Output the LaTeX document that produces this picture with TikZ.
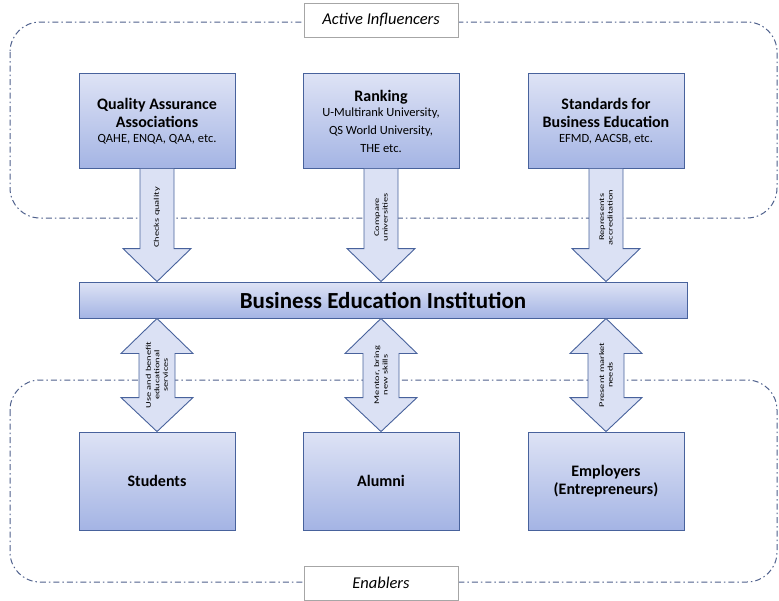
\documentclass[tikz,border=0pt]{standalone}
\usepackage{fontspec}
\setmainfont{Carlito}
\usetikzlibrary{calc}

\definecolor{boxtop}{RGB}{222,227,245}
\definecolor{boxbot}{RGB}{164,180,228}
\definecolor{boxline}{RGB}{72,98,156}
\definecolor{arrowfill}{RGB}{219,225,244}
\definecolor{dashline}{RGB}{78,96,140}

\tikzset{
  region/.style={draw=dashline, line width=1pt, rounded corners=30pt,
    dash pattern=on 6pt off 3pt on 1.5pt off 3pt},
  tagbox/.style={draw=black!35, fill=white, minimum width=154pt, minimum height=34pt,
    font=\fontsize{16.5}{18}\selectfont\itshape},
  bluebox/.style={draw=boxline, line width=0.9pt, top color=boxtop, bottom color=boxbot,
    minimum width=156pt, align=center, inner sep=2pt},
  topbox/.style={bluebox, minimum height=95pt, font=\titlefont},
  lowbox/.style={bluebox, minimum height=98pt, font=\fontsize{16}{18.5}\selectfont\bfseries},
  blockarrow/.style={draw=boxline, line width=0.9pt, fill=arrowfill, line join=miter},
  arrowtext/.style={rotate=90, xscale=1.45, align=center, inner sep=0pt,
    font=\fontsize{7.2}{8.5}\selectfont}
}

\newcommand{\titlefont}{\fontsize{16}{18}\selectfont\bfseries}
\newcommand{\subfont}{\fontsize{12.5}{14}\selectfont\mdseries}

\begin{document}
\begin{tikzpicture}[x=1pt, y=-1pt]
\useasboundingbox (0,0) rectangle (779,600);

% dashed regions
\draw[region] (10,22) rectangle (777,218);
\draw[region] (10,380) rectangle (777,582);
\node[tagbox] (active) at (381,20) {Active Influencers};
\node[tagbox] (enabler) at (381,583) {Enablers};

% influencers
\node[topbox] (qaa) at (157,121) {Quality Assurance\\Associations\\[-3pt]\subfont QAHE, ENQA, QAA, etc.};
\node[topbox] (rank) at (381,121) {Ranking\\[-3pt]\subfont U-Multirank University,\\\subfont QS World University,\\\subfont THE etc.};
\node[topbox] (std) at (606,121) {Standards for\\Business Education\\[-3pt]\subfont EFMD, AACSB, etc.};

\node[bluebox, minimum width=608pt, minimum height=36pt,
  font=\fontsize{23}{26}\selectfont\bfseries] (bei) at (383,300) {Business Education Institution};

% enablers
\node[lowbox] (stud) at (157,481) {Students};
\node[lowbox] (alum) at (381,481) {Alumni};
\node[lowbox] (empl) at (606,481) {Employers\\(Entrepreneurs)};

\foreach \n/\t in {qaa/{Checks quality}, rank/{Compare\\universities}, std/{Represents\\accreditation}} {
  \path (\n.south) coordinate (s) (\n.south |- bei.north) coordinate (e);
  \filldraw[blockarrow] ($(s)+(-17,0)$) -- ($(e)+(-17,-33)$) -- ($(e)+(-34,-33)$) -- (e)
    -- ($(e)+(34,-33)$) -- ($(e)+(17,-33)$) -- ($(s)+(17,0)$);
  \node[arrowtext] at ($(s)!0.43!(e)$) {\t};
}

\foreach \n/\t in {stud/{Use and benefit\\educational\\services}, alum/{Mentor, bring\\new skills}, empl/{Present market\\needs}} {
  \path (\n.north |- bei.south) coordinate (s) (\n.north) coordinate (e);
  \filldraw[blockarrow] (s) -- ($(s)+(36,35)$) -- ($(s)+(18,35)$) -- ($(e)+(18,-34)$)
    -- ($(e)+(36,-34)$) -- (e) -- ($(e)+(-36,-34)$) -- ($(e)+(-18,-34)$)
    -- ($(s)+(-18,35)$) -- ($(s)+(-36,35)$) -- cycle;
  \node[arrowtext] at ($(s)!0.5!(e)$) {\t};
}

\end{tikzpicture}
\end{document}
